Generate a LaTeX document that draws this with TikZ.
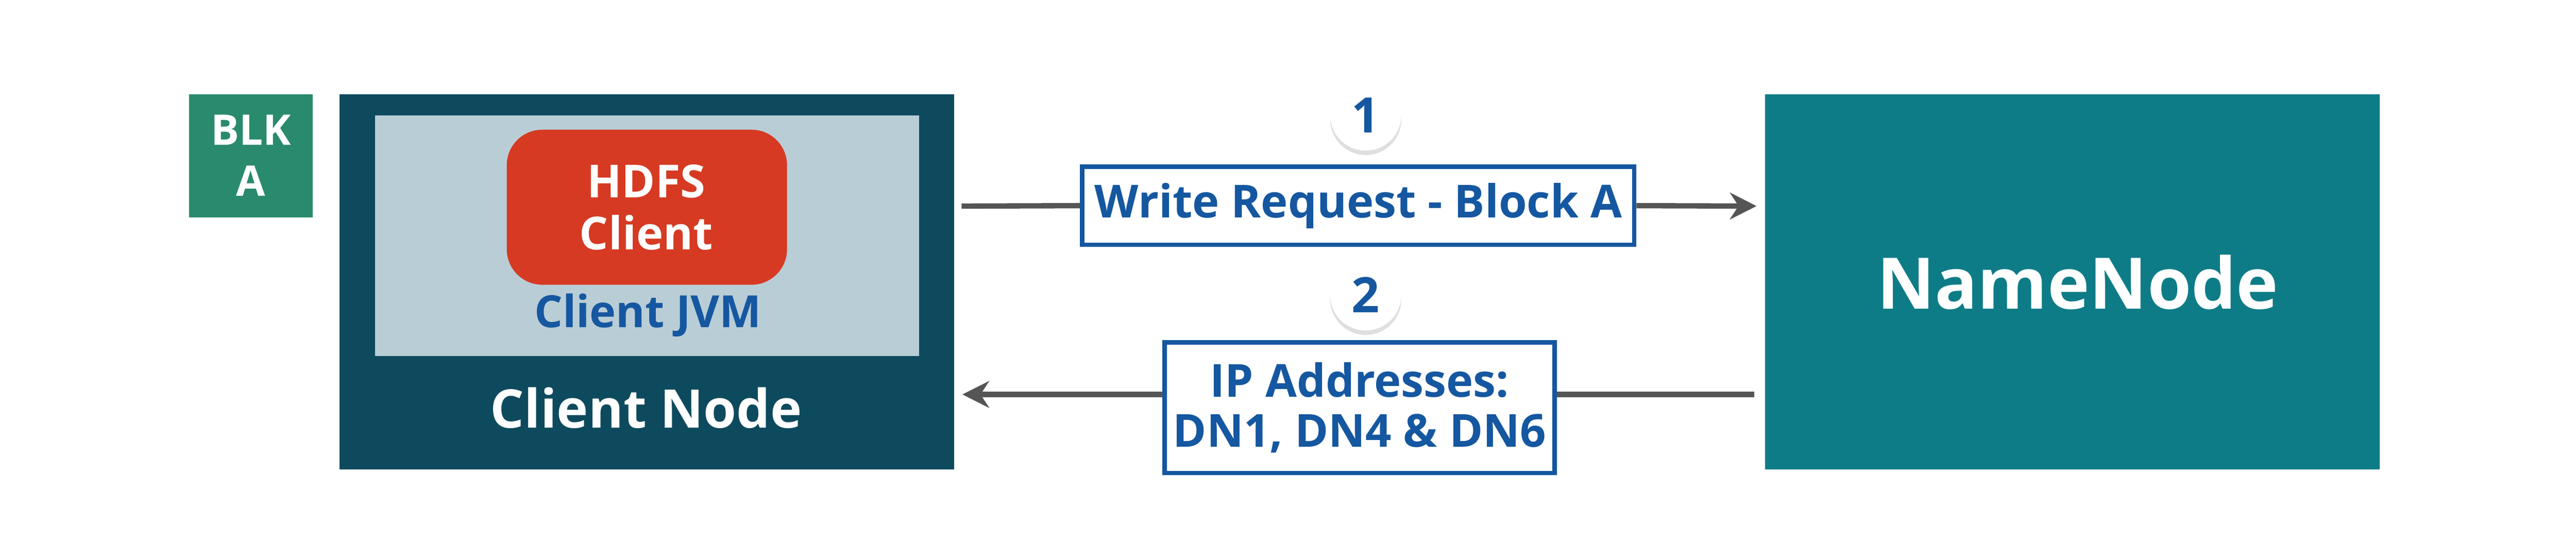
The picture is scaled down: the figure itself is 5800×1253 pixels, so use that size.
\documentclass[tikz,border=0pt]{standalone}
\usepackage{fontspec}
\setmainfont{Open Sans}
\usetikzlibrary{arrows.meta,shadows}
\definecolor{blkg}{HTML}{2A8A6E}
\definecolor{cnode}{HTML}{0E4A5E}
\definecolor{jvm}{HTML}{B9CDD6}
\definecolor{hred}{HTML}{D63A22}
\definecolor{nn}{HTML}{0E7C87}
\definecolor{tblue}{HTML}{1557A0}
\definecolor{arr}{HTML}{555555}
\begin{document}
\begin{tikzpicture}[x=0.2pt,y=-0.2pt,
  fs/.style={font=\bfseries\fontsize{#1}{#1}\selectfont},
  box/.style={draw=tblue,line width=2pt,fill=white,text=tblue,align=center,inner sep=0pt},
  num/.style={circle,fill=white,minimum size=32pt,inner sep=0pt,text=tblue,fs=22pt,drop shadow={opacity=0.25,shadow xshift=0pt,shadow yshift=-2pt}},
  con/.style={draw=arr,line width=2.4pt,-{Stealth[length=12pt,width=12pt]}}]
\useasboundingbox (0,0) rectangle (5800,1253);
% BLK A
\node[fill=blkg,minimum width=55.6pt,minimum height=55.4pt,text=white,fs=19pt,align=center,inner sep=0pt,anchor=north west] (blk) at (425,211) {BLK\\[4pt]A};
% client node
\node[fill=cnode,minimum width=276.8pt,minimum height=169pt,anchor=north west,inner sep=0pt] (cn) at (763,211) {};
\node[fill=jvm,minimum width=245pt,minimum height=108.2pt,anchor=north west,inner sep=0pt] (jvm) at (843,259) {};
\node[fill=hred,rounded corners=16pt,minimum width=126.2pt,minimum height=69.8pt,anchor=north west,inner sep=0pt] (hc) at (1140,291) {};
\node[text=white,fs=20.5pt,align=center] (hct) at (1455,467) {HDFS\\[3pt]Client};
\node[text=tblue,fs=20pt] (jt) at (1459,710) {Client JVM};
\node[text=white,fs=24pt] (cnt) at (1455,918) {Client Node};
% NameNode
\node[fill=nn,minimum width=276.8pt,minimum height=169pt,anchor=north west,inner sep=0pt] (nnb) at (3973,211) {};
\node[text=white,fs=32pt] (nnt) at (4678,635) {NameNode};
% numbers
\node[num] (n1) at (3075,259) {1};
\node[num] (n2) at (3075,664) {2};
% labels
\node[box,minimum width=248.6pt,minimum height=35.2pt,fs=20.5pt] (wr) at (3058,463) {Write Request - Block A};
\node[box,minimum width=175.6pt,minimum height=58.8pt,fs=20.5pt] (ip) at (3061,918) {IP Addresses:\\[2pt]DN1, DN4 \& DN6};
% connectors
\coordinate (a1s) at (2165,464);
\coordinate (a1e) at (3955,464);
\coordinate (a2s) at (3950,888);
\coordinate (a2e) at (2167,888);
\draw[draw=arr,line width=2.4pt] (a1s) -- (wr.west);
\draw[con] (wr.east) -- (a1e);
\draw[draw=arr,line width=2.4pt] (a2s) -- (ip.east|-a2s);
\draw[con] (ip.west|-a2e) -- (a2e);
\end{tikzpicture}
\end{document}
